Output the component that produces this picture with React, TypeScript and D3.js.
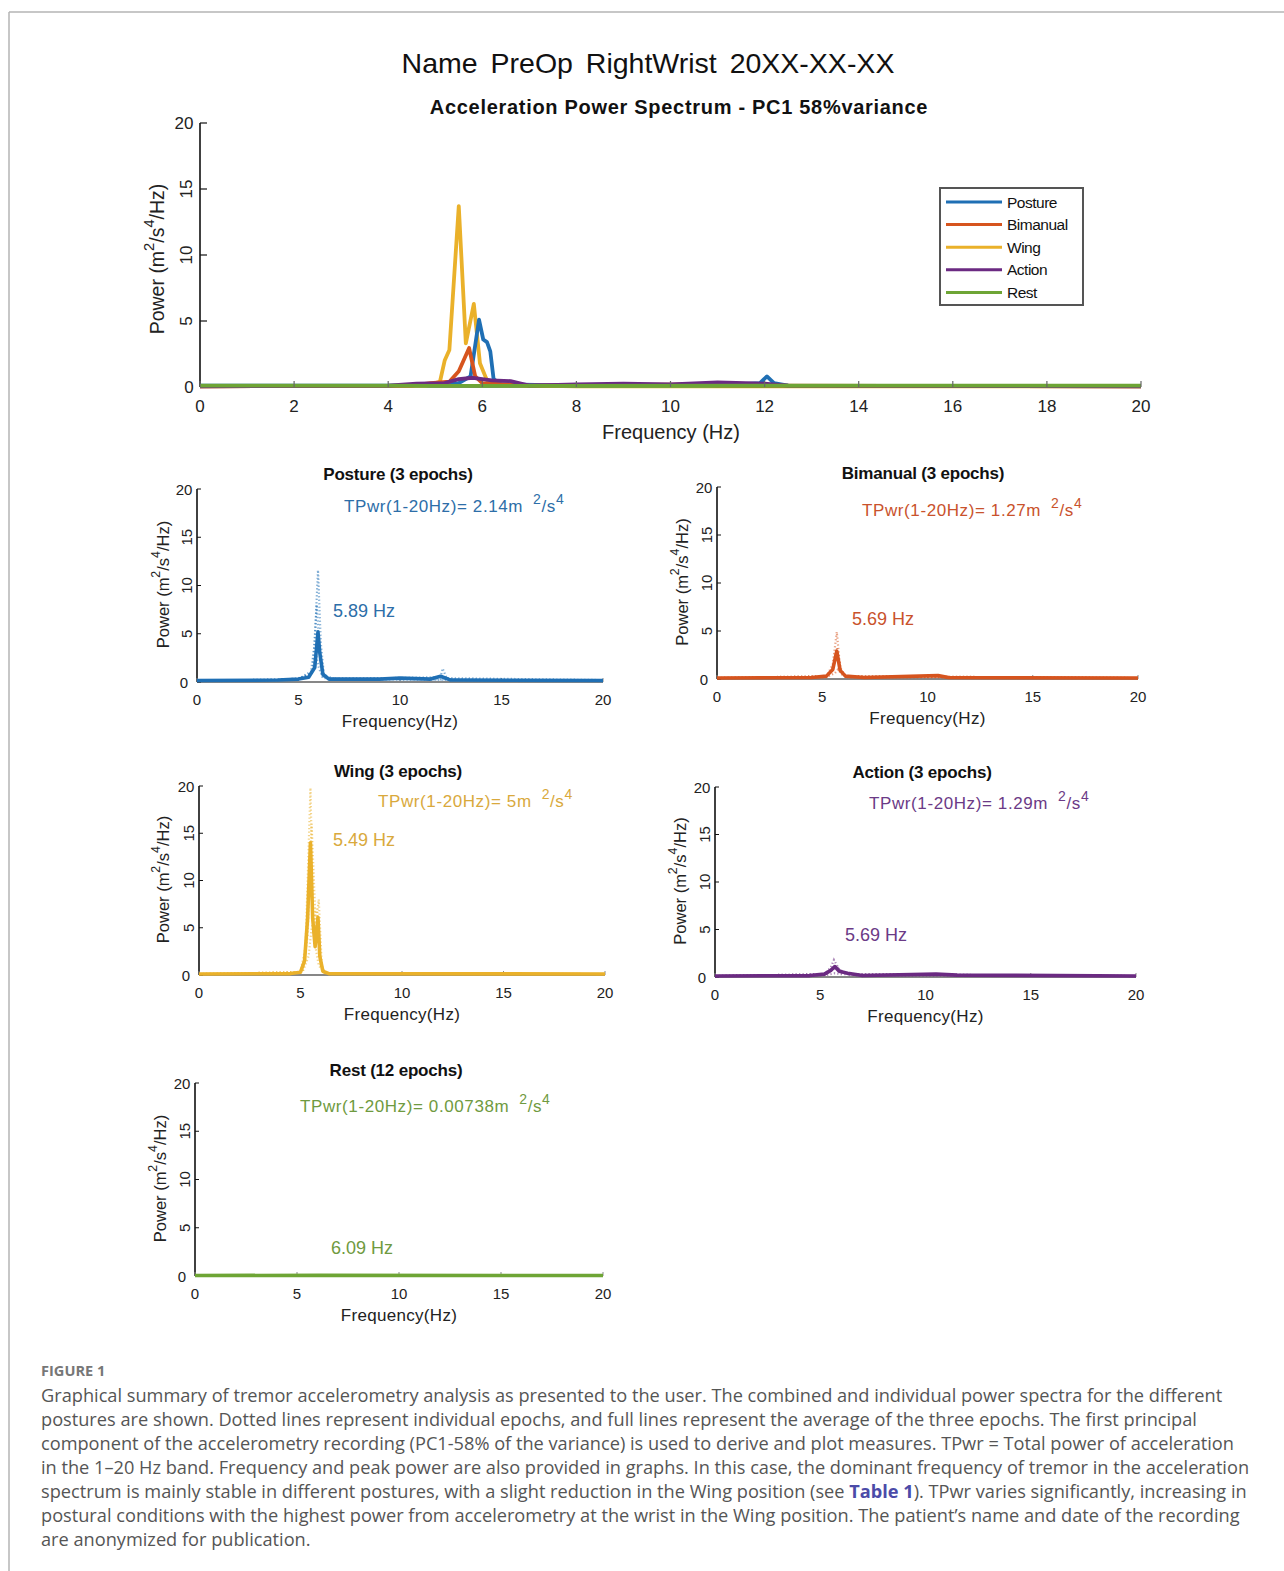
import React from 'react';
import * as d3 from 'd3';

type Pt = [number, number];

// ---------- colours ----------
const seriesNames = ['Posture', 'Bimanual', 'Wing', 'Action', 'Rest'];
const seriesColors = ['#1f6fb4', '#d6541e', '#eab12a', '#6b2a82', '#6ea535'];
const textColors = ['#2d6ea8', '#c9522c', '#d9a93c', '#6b3a86', '#6f9a40'];

// ---------- combined spectrum (top chart) ----------
const mainXTicks = [0, 2, 4, 6, 8, 10, 12, 14, 16, 18, 20];
const mainYTicks = [0, 5, 10, 15, 20];

const postureAvg: Pt[] = [[0, 0.1], [2, 0.1], [4, 0.1], [5, 0.2], [5.5, 0.3], [5.75, 0.8], [5.93, 5.1], [6.02, 3.6], [6.1, 3.4], [6.17, 2.7], [6.24, 0.6], [6.4, 0.2], [8, 0.1], [11, 0.12], [11.9, 0.3], [12.05, 0.8], [12.2, 0.3], [12.5, 0.1], [16, 0.08], [20, 0.08]];
const bimanualAvg: Pt[] = [[0, 0.05], [4.5, 0.1], [4.9, 0.3], [5.3, 0.4], [5.5, 1.2], [5.72, 2.95], [5.85, 0.8], [6.0, 0.3], [7, 0.1], [10.5, 0.2], [11, 0.1], [20, 0.05]];
const wingAvg: Pt[] = [[0, 0.05], [4.8, 0.1], [5.1, 0.4], [5.2, 2.0], [5.3, 2.8], [5.5, 13.7], [5.65, 3.3], [5.82, 6.3], [5.95, 1.8], [6.1, 0.5], [6.3, 0.15], [8, 0.05], [20, 0.05]];
const actionAvg: Pt[] = [[0, 0.05], [4, 0.1], [4.6, 0.25], [5.2, 0.3], [5.5, 0.6], [5.8, 0.7], [6.2, 0.5], [6.6, 0.45], [7, 0.1], [8, 0.2], [9, 0.25], [10, 0.2], [11, 0.35], [12, 0.25], [12.5, 0.1], [20, 0.05]];
const restAvg: Pt[] = [[0, 0.1], [4, 0.1], [5, 0.08], [7, 0.08], [14, 0.1], [20, 0.1]];
const mainSeries = [postureAvg, bimanualAvg, wingAvg, actionAvg, restAvg];

// ---------- individual panels ----------
const subXTicks = [0, 5, 10, 15, 20];
const subYTicks = [0, 5, 10, 15, 20];

const postureMean: Pt[] = [[0, 0.15], [4, 0.2], [5, 0.3], [5.5, 0.5], [5.8, 1.5], [5.96, 5.2], [6.05, 3.0], [6.2, 0.8], [6.5, 0.3], [9, 0.3], [10, 0.4], [11.5, 0.3], [12, 0.6], [12.5, 0.2], [20, 0.15]];
const postureEp1: Pt[] = [[0, 0.2], [4, 0.2], [5, 0.4], [5.6, 0.8], [5.8, 4], [5.96, 11.6], [6.1, 4], [6.25, 0.8], [6.6, 0.3], [12, 0.5], [12.1, 1.4], [12.3, 0.4], [20, 0.2]];
const postureEp2: Pt[] = [[0, 0.1], [5, 0.3], [5.7, 1.2], [5.9, 8.0], [6.05, 3.0], [6.2, 0.6], [7, 0.3], [20, 0.1]];
const postureEp3: Pt[] = [[0, 0.1], [5, 0.3], [5.7, 1.0], [5.85, 3.0], [6.0, 1.5], [6.2, 0.4], [20, 0.1]];

const bimanualMean: Pt[] = [[0, 0.1], [4.5, 0.15], [5.2, 0.3], [5.5, 1.0], [5.69, 2.9], [5.85, 0.9], [6.1, 0.3], [7, 0.15], [10.5, 0.35], [11, 0.15], [20, 0.1]];
const bimanualEp1: Pt[] = [[0, 0.1], [5.2, 0.3], [5.5, 1.5], [5.69, 4.9], [5.85, 1.2], [6.1, 0.3], [20, 0.1]];
const bimanualEp2: Pt[] = [[0, 0.1], [5.2, 0.3], [5.5, 1.0], [5.7, 3.2], [5.9, 0.8], [6.2, 0.2], [20, 0.1]];
const bimanualEp3: Pt[] = [[0, 0.1], [5.2, 0.2], [5.6, 0.6], [5.75, 1.0], [6.0, 0.3], [20, 0.1]];

const wingMean: Pt[] = [[0, 0.1], [4.5, 0.15], [5.0, 0.3], [5.2, 1.5], [5.35, 6.0], [5.49, 14.0], [5.6, 6.0], [5.72, 3.0], [5.86, 6.1], [5.95, 2.0], [6.1, 0.4], [6.4, 0.15], [20, 0.1]];
const wingEp1: Pt[] = [[0, 0.1], [5.0, 0.3], [5.25, 3.0], [5.49, 19.8], [5.65, 4.0], [5.9, 1.0], [6.2, 0.2], [20, 0.1]];
const wingEp2: Pt[] = [[0, 0.1], [5.1, 0.3], [5.35, 4.0], [5.55, 16.0], [5.75, 5.0], [5.9, 8.0], [6.05, 1.0], [6.2, 0.2], [20, 0.1]];
const wingEp3: Pt[] = [[0, 0.1], [5.1, 0.3], [5.4, 2.0], [5.55, 5.0], [5.8, 7.0], [6.0, 1.0], [6.2, 0.2], [20, 0.1]];

const actionMean: Pt[] = [[0, 0.1], [4.5, 0.15], [5.2, 0.3], [5.5, 0.7], [5.69, 1.1], [5.9, 0.6], [6.3, 0.4], [7, 0.15], [10.5, 0.3], [11.5, 0.2], [20, 0.1]];
const actionEp1: Pt[] = [[0, 0.1], [5.2, 0.3], [5.5, 1.0], [5.65, 1.8], [5.9, 0.8], [6.3, 0.3], [20, 0.1]];
const actionEp2: Pt[] = [[0, 0.1], [5.2, 0.3], [5.6, 0.9], [5.75, 1.2], [6.0, 0.6], [6.4, 0.2], [20, 0.1]];
const actionEp3: Pt[] = [[0, 0.1], [5.3, 0.2], [5.7, 0.4], [6.0, 0.3], [20, 0.1]];

const restMean: Pt[] = [[0, 0.05], [6.09, 0.07], [20, 0.05]];
const restEp1: Pt[] = [[0, 0.04], [20, 0.04]];

const panelTitles = ['Posture (3 epochs)', 'Bimanual (3 epochs)', 'Wing (3 epochs)', 'Action (3 epochs)', 'Rest (12 epochs)'];
const panelTPwr = ['2.14m', '1.27m', '5m', '1.29m', '0.00738m'];
const panelPeaks = ['5.89 Hz', '5.69 Hz', '5.49 Hz', '5.69 Hz', '6.09 Hz'];
const panelMeans = [postureMean, bimanualMean, wingMean, actionMean, restMean];
const panelEpochs = [
  [postureEp1, postureEp2, postureEp3],
  [bimanualEp1, bimanualEp2, bimanualEp3],
  [wingEp1, wingEp2, wingEp3],
  [actionEp1, actionEp2, actionEp3],
  [restEp1],
];

// layout (pixels)
const panelBoxes = [
  { L: 197, R: 603, T: 489, B: 682, titleX: 398, titleY: 474, tpX: 344, tpY: 506, pkX: 333, pkY: 611, ylX: 163 },
  { L: 717, R: 1138, T: 487, B: 679, titleX: 923, titleY: 473, tpX: 862, tpY: 510, pkX: 852, pkY: 619, ylX: 682 },
  { L: 199, R: 605, T: 786, B: 975, titleX: 398, titleY: 771, tpX: 378, tpY: 801, pkX: 333, pkY: 840, ylX: 163 },
  { L: 715, R: 1136, T: 787, B: 977, titleX: 922, titleY: 772, tpX: 869, tpY: 803, pkX: 845, pkY: 935, ylX: 680 },
  { L: 195, R: 603, T: 1083, B: 1276, titleX: 396, titleY: 1070, tpX: 300, tpY: 1106, pkX: 331, pkY: 1248, ylX: 160 },
];

const captionLines = [
  'Graphical summary of tremor accelerometry analysis as presented to the user. The combined and individual power spectra for the different',
  'postures are shown. Dotted lines represent individual epochs, and full lines represent the average of the three epochs. The first principal',
  'component of the accelerometry recording (PC1-58% of the variance) is used to derive and plot measures. TPwr = Total power of acceleration',
  'in the 1\u201320 Hz band. Frequency and peak power are also provided in graphs. In this case, the dominant frequency of tremor in the acceleration',
  '__TABLE__',
  'postural conditions with the highest power from accelerometry at the wrist in the Wing position. The patient\u2019s name and date of the recording',
  'are anonymized for publication.',
];

const FONT = 'Liberation Sans, Arial, sans-serif';

function YLabel({ x, y, size }: { x: number; y: number; size: number }) {
  const sup = size * 0.75;
  const dy = size * 0.42;
  return (
    <text transform={`translate(${x},${y}) rotate(-90)`} textAnchor="middle" dominantBaseline="central" fontSize={size} fontFamily={FONT} fill="#222">
      <tspan>Power (m</tspan>
      <tspan fontSize={sup} dy={-dy}>2</tspan>
      <tspan dy={dy}>/s</tspan>
      <tspan fontSize={sup} dy={-dy}>4</tspan>
      <tspan dy={dy}>/Hz)</tspan>
    </text>
  );
}

function YTickLabel({ x, y, v, size }: { x: number; y: number; v: number; size: number }) {
  if (v === 20 || v === 0) {
    return (
      <text x={x} y={y} textAnchor="middle" dominantBaseline="central" fontSize={size} fontFamily={FONT} fill="#222">{v}</text>
    );
  }
  return (
    <text transform={`translate(${x + 2},${y}) rotate(-90)`} textAnchor="middle" dominantBaseline="central" fontSize={size} fontFamily={FONT} fill="#222">{v}</text>
  );
}

function Panel({ i }: { i: number }) {
  const b = panelBoxes[i];
  const x = d3.scaleLinear().domain([0, 20]).range([b.L, b.R]);
  const y = d3.scaleLinear().domain([0, 20]).range([b.B, b.T]);
  const line = d3.line<Pt>().x((d) => x(d[0])).y((d) => y(d[1])).curve(d3.curveLinear);
  const col = seriesColors[i];
  const tc = textColors[i];
  return (
    <g>
      {/* axes */}
      <line x1={b.L} x2={b.L} y1={y(20)} y2={b.B} stroke="#111" strokeWidth={1.6} />
      <line x1={b.L} x2={b.R} y1={b.B} y2={b.B} stroke="#111" strokeWidth={1.2} />
      {subYTicks.map((v) => (
        <g key={'yt' + v}>
          <line x1={b.L} x2={b.L + 4} y1={y(v)} y2={y(v)} stroke="#111" strokeWidth={1} />
          <YTickLabel x={b.L - 13} y={y(v)} v={v} size={15} />
        </g>
      ))}
      {subXTicks.map((v) => (
        <g key={'xt' + v}>
          <line x1={x(v)} x2={x(v)} y1={b.B} y2={b.B - 4} stroke="#888" strokeWidth={1} />
          <text x={x(v)} y={b.B + 17} textAnchor="middle" dominantBaseline="central" fontSize={15} fontFamily={FONT} fill="#222">{v}</text>
        </g>
      ))}
      {/* epochs dotted */}
      {panelEpochs[i].map((ep, k) => (
        <path key={'ep' + k} d={line(ep) || ''} fill="none" stroke={col} strokeOpacity={0.55} strokeWidth={2.2} strokeDasharray="1.3 2.2" />
      ))}
      {/* mean */}
      <path d={line(panelMeans[i]) || ''} fill="none" stroke={col} strokeWidth={3.6} strokeLinejoin="round" />
      {/* texts */}
      <text x={b.titleX} y={b.titleY} textAnchor="middle" dominantBaseline="central" fontSize={17} fontWeight="bold" fontFamily={FONT} fill="#111" letterSpacing={-0.2}>{panelTitles[i]}</text>
      <text x={b.tpX} y={b.tpY} dominantBaseline="central" fontSize={17} fontFamily={FONT} fill={tc} letterSpacing={0.6}>
        <tspan>{`TPwr(1-20Hz)= ${panelTPwr[i]}`}</tspan>
        <tspan fontSize={14} dx={10} dy={-7}>2</tspan>
        <tspan dy={7}>/s</tspan>
        <tspan fontSize={14} dy={-7}>4</tspan>
      </text>
      <text x={b.pkX} y={b.pkY} dominantBaseline="central" fontSize={18} fontFamily={FONT} fill={tc}>{panelPeaks[i]}</text>
      <text x={(b.L + b.R) / 2} y={b.B + 39} textAnchor="middle" dominantBaseline="central" fontSize={17} fontFamily={FONT} fill="#222" letterSpacing={0.3}>Frequency(Hz)</text>
      <YLabel x={b.ylX} y={(b.T + b.B) / 2 - 1} size={16.5} />
    </g>
  );
}

function MainChart() {
  const L = 200, R = 1141, T = 123, B = 387;
  const x = d3.scaleLinear().domain([0, 20]).range([L, R]);
  const y = d3.scaleLinear().domain([0, 20]).range([B, T]);
  const line = d3.line<Pt>().x((d) => x(d[0])).y((d) => y(d[1]));
  const order = [2, 0, 1, 3, 4];
  return (
    <g>
      <line x1={L} x2={L} y1={T} y2={B} stroke="#111" strokeWidth={1.6} />
      <line x1={L} x2={R} y1={B} y2={B} stroke="#111" strokeWidth={1.2} />
      {mainYTicks.map((v) => (
        <g key={'myt' + v}>
          <line x1={L} x2={L + 7} y1={y(v)} y2={y(v)} stroke="#111" strokeWidth={1.2} />
          <YTickLabel x={v === 0 ? L - 11 : L - 16} y={y(v)} v={v} size={17} />
        </g>
      ))}
      {order.map((k) => (
        <path key={'ms' + k} d={line(mainSeries[k]) || ''} fill="none" stroke={seriesColors[k]} strokeWidth={3.8} strokeLinejoin="round" />
      ))}
      {mainXTicks.map((v) => (
        <g key={'mxt' + v}>
          <line x1={x(v)} x2={x(v)} y1={B} y2={B - 6} stroke="#666" strokeWidth={1.2} />
          <text x={x(v)} y={B + 19} textAnchor="middle" dominantBaseline="central" fontSize={17} fontFamily={FONT} fill="#222">{v}</text>
        </g>
      ))}
      <text x={671} y={432} textAnchor="middle" dominantBaseline="central" fontSize={20} fontFamily={FONT} fill="#222">Frequency (Hz)</text>
      <YLabel x={157} y={259} size={19.5} />
      {/* legend */}
      <rect x={940} y={188} width={143} height={117} fill="#fff" stroke="#555" strokeWidth={2} />
      {seriesNames.map((n, k) => (
        <g key={'lg' + k}>
          <line x1={946} x2={1002} y1={202 + k * 22.6} y2={202 + k * 22.6} stroke={seriesColors[k]} strokeWidth={3} />
          <text x={1007} y={202 + k * 22.6} dominantBaseline="central" fontSize={15.5} fontFamily={FONT} fill="#111" letterSpacing={-0.5}>{n}</text>
        </g>
      ))}
    </g>
  );
}

export default function App() {
  const capFont = '"Open Sans", "Noto Sans", sans-serif';
  return (
    <svg width={1284} height={1571} viewBox="0 0 1284 1571" style={{ position: 'absolute', left: 0, top: 0, background: '#fff' }}>
      <rect x={0} y={0} width={1284} height={1571} fill="#fff" />
      <line x1={9} x2={1284} y1={12} y2={12} stroke="#b5b5b5" strokeWidth={1.5} />
      <line x1={9} x2={9} y1={12} y2={1571} stroke="#b5b5b5" strokeWidth={1.5} />
      <text x={648} y={63} textAnchor="middle" dominantBaseline="central" fontSize={28.5} fontFamily={FONT} fill="#111" wordSpacing={5}>Name PreOp RightWrist 20XX-XX-XX</text>
      <text x={679} y={107} textAnchor="middle" dominantBaseline="central" fontSize={20} fontWeight="bold" fontFamily={FONT} fill="#111" letterSpacing={0.7}>Acceleration Power Spectrum - PC1 58%variance</text>
      <MainChart />
      {panelBoxes.map((_, i) => <Panel key={i} i={i} />)}
      <text x={41} y={1370} dominantBaseline="central" fontSize={14.6} fontWeight="bold" fontFamily={capFont} fill="#777">FIGURE 1</text>
      {captionLines.map((ln, k) => (
        <text key={'cap' + k} x={41} y={1395 + k * 24} dominantBaseline="central" fontSize={18.2} fontFamily={capFont} fill="#555">
          {ln === '__TABLE__' ? (
            <>
              <tspan>spectrum is mainly stable in different postures, with a slight reduction in the Wing position (see </tspan>
              <tspan fontWeight="bold" fill="#4b4ba8">Table 1</tspan>
              <tspan>). TPwr varies significantly, increasing in</tspan>
            </>
          ) : ln}
        </text>
      ))}
    </svg>
  );
}
